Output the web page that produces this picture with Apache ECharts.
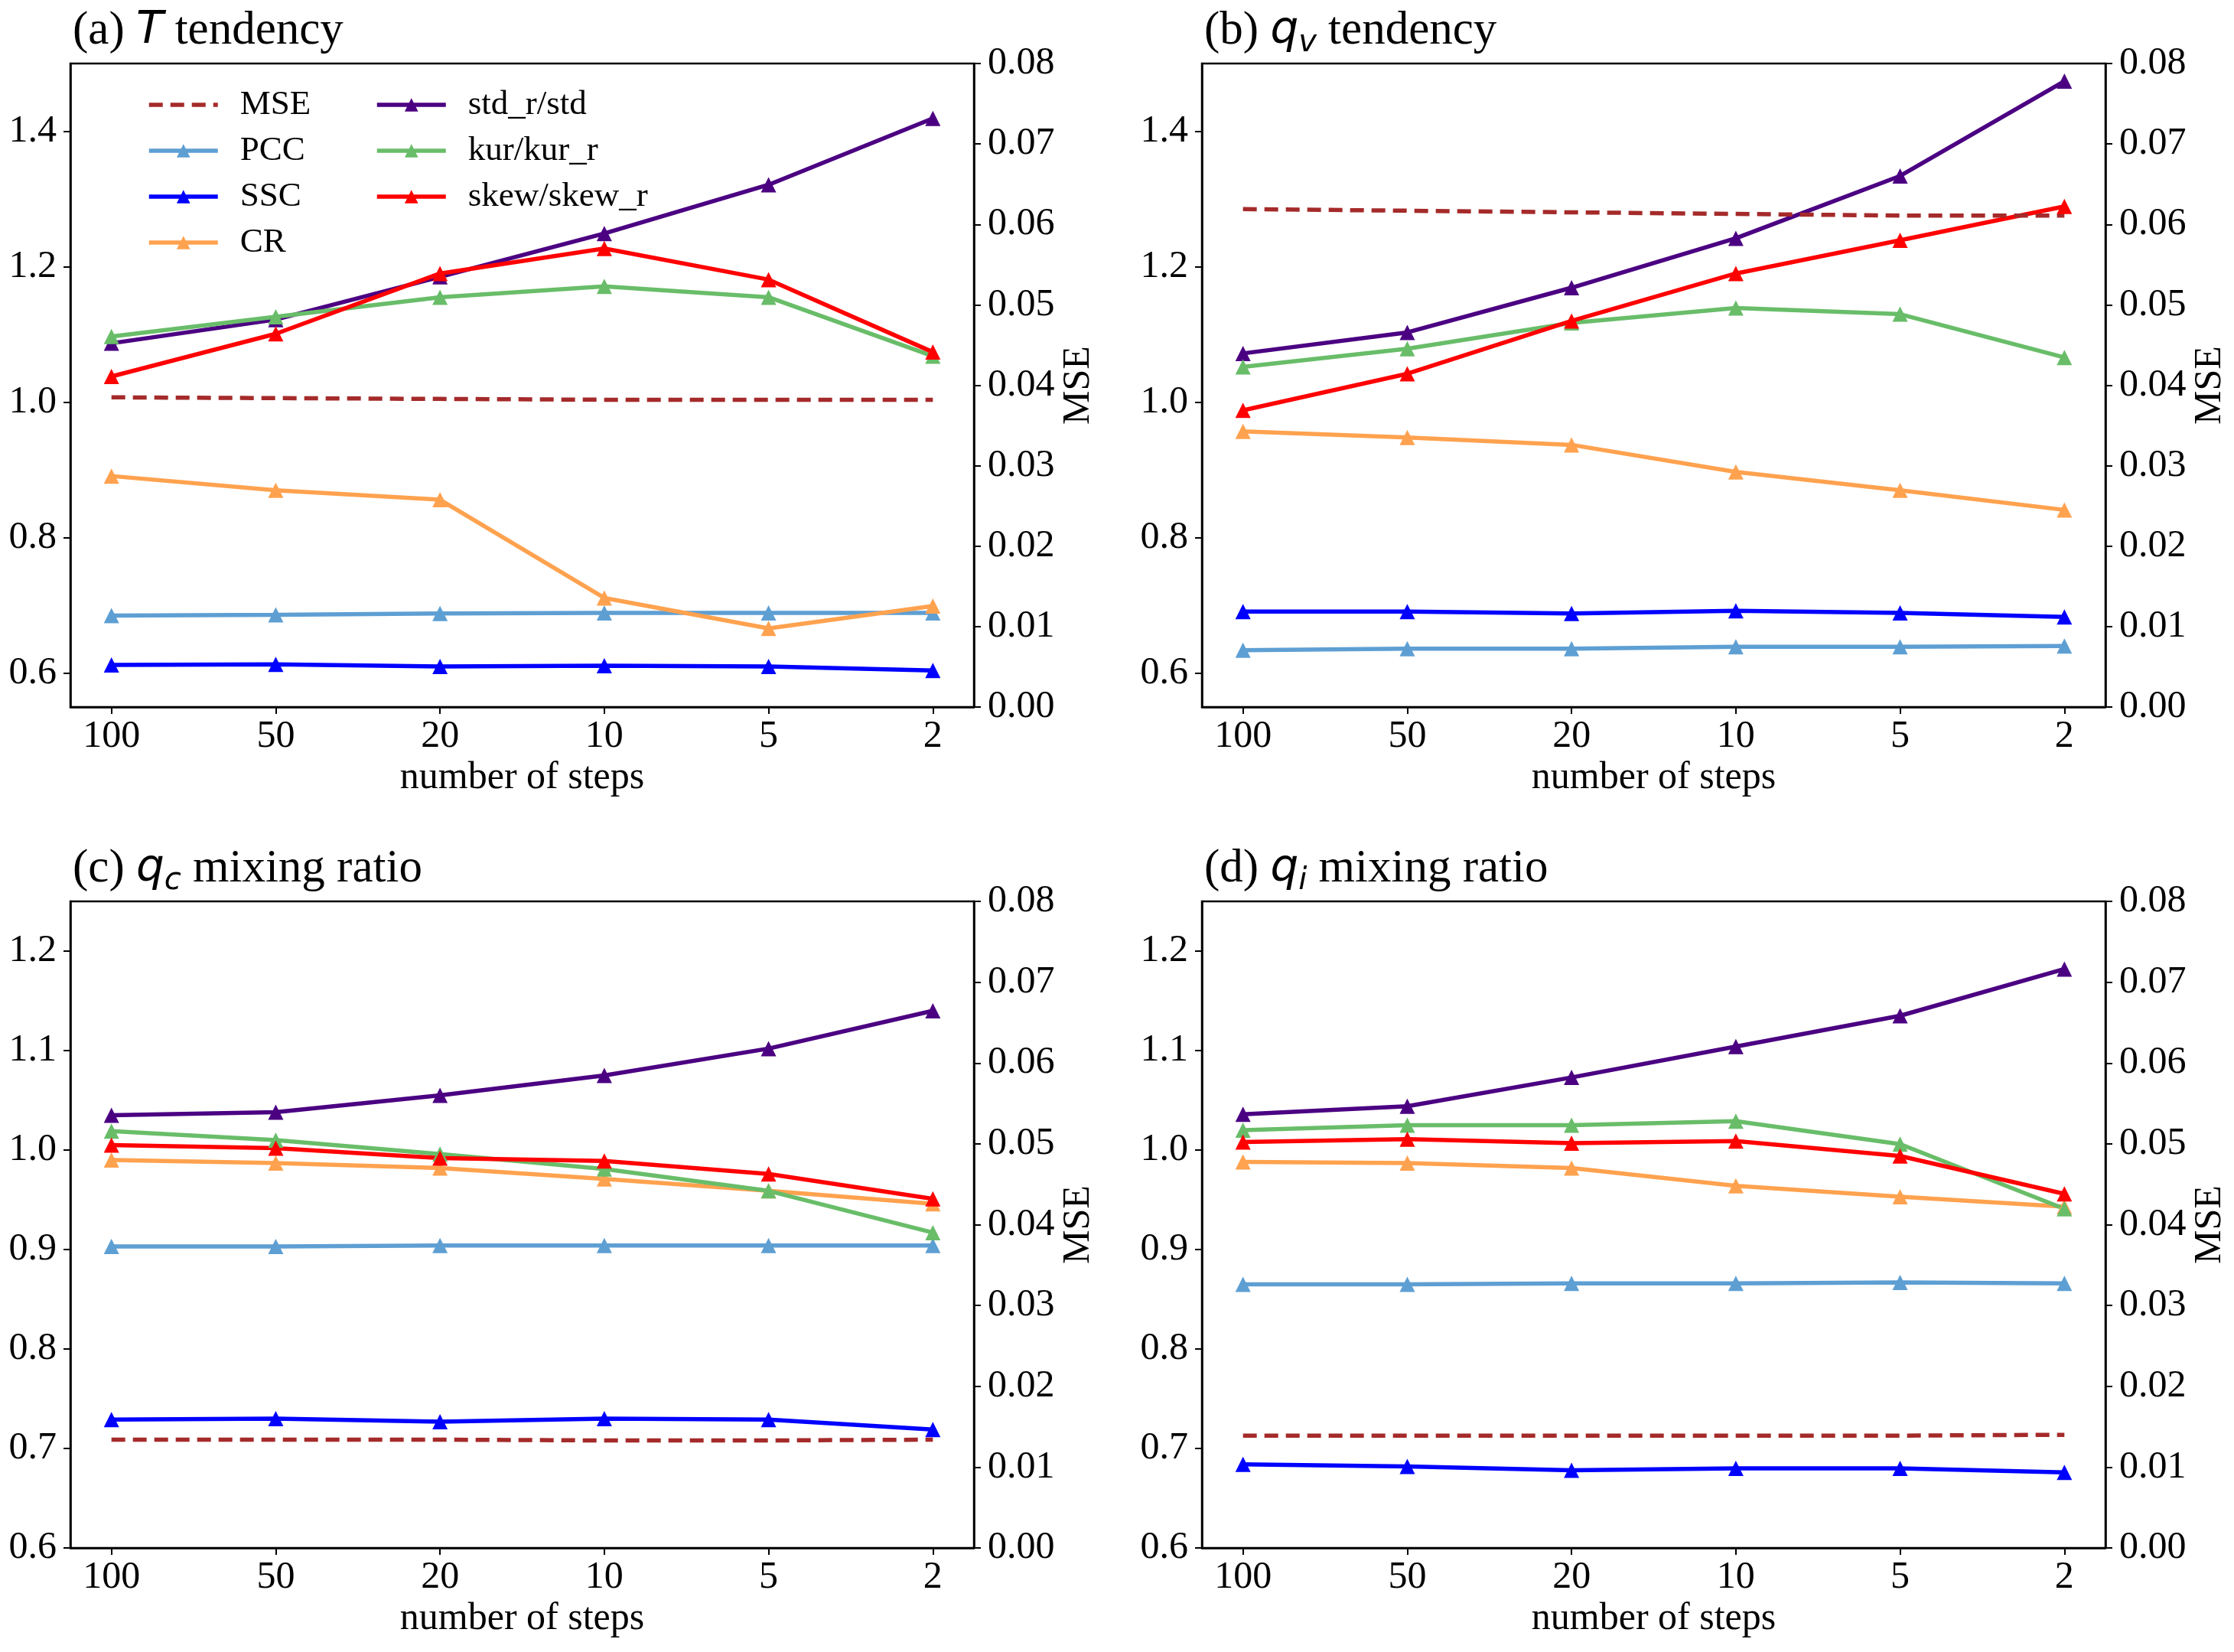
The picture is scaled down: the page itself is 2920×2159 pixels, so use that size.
<!DOCTYPE html>
<html><head><meta charset="utf-8">
<script src="https://cdn.jsdelivr.net/npm/echarts@6/dist/echarts.min.js"></script>
<style>html,body{margin:0;padding:0;background:#fff}#c{width:2920px;height:2159px}</style>
</head><body><div id="c"></div>
<script>
// ---------- data ----------
const steps = ['100', '50', '20', '10', '5', '2'];
const names = ['MSE', 'PCC', 'SSC', 'CR', 'std_r/std', 'kur/kur_r', 'skew/skew_r'];

// (a) T tendency
const a_MSE  = [0.0385, 0.0384, 0.0383, 0.0382, 0.0382, 0.0382];
const a_PCC  = [0.685, 0.686, 0.688, 0.689, 0.689, 0.689];
const a_SSC  = [0.612, 0.613, 0.610, 0.611, 0.610, 0.604];
const a_CR   = [0.891, 0.870, 0.856, 0.711, 0.666, 0.699];
const a_STD  = [1.087, 1.122, 1.185, 1.249, 1.321, 1.419];
const a_KUR  = [1.097, 1.126, 1.155, 1.171, 1.155, 1.068];
const a_SKEW = [1.038, 1.101, 1.190, 1.227, 1.181, 1.074];

// (b) qv tendency
const b_MSE  = [0.0619, 0.0617, 0.0615, 0.0613, 0.0611, 0.0611];
const b_PCC  = [0.634, 0.636, 0.636, 0.639, 0.639, 0.640];
const b_SSC  = [0.691, 0.691, 0.688, 0.692, 0.689, 0.683];
const b_CR   = [0.957, 0.948, 0.937, 0.897, 0.870, 0.841];
const b_STD  = [1.072, 1.103, 1.169, 1.242, 1.334, 1.474];
const b_KUR  = [1.052, 1.079, 1.117, 1.139, 1.130, 1.066];
const b_SKEW = [0.988, 1.042, 1.120, 1.190, 1.239, 1.289];

// (c) qc mixing ratio
const c_MSE  = [0.0134, 0.0134, 0.0134, 0.0133, 0.0133, 0.0134];
const c_PCC  = [0.903, 0.903, 0.904, 0.904, 0.904, 0.904];
const c_SSC  = [0.729, 0.730, 0.727, 0.730, 0.729, 0.719];
const c_CR   = [0.990, 0.987, 0.982, 0.971, 0.959, 0.946];
const c_STD  = [1.035, 1.038, 1.055, 1.075, 1.102, 1.140];
const c_KUR  = [1.019, 1.010, 0.996, 0.981, 0.959, 0.917];
const c_SKEW = [1.005, 1.002, 0.992, 0.989, 0.976, 0.951];

// (d) qi mixing ratio
const d_MSE  = [0.0139, 0.0139, 0.0139, 0.0139, 0.0139, 0.0140];
const d_PCC  = [0.865, 0.865, 0.866, 0.866, 0.867, 0.866];
const d_SSC  = [0.684, 0.682, 0.678, 0.680, 0.680, 0.676];
const d_CR   = [0.988, 0.987, 0.982, 0.964, 0.953, 0.943];
const d_STD  = [1.036, 1.044, 1.073, 1.104, 1.135, 1.182];
const d_KUR  = [1.020, 1.025, 1.025, 1.029, 1.006, 0.941];
const d_SKEW = [1.008, 1.011, 1.007, 1.009, 0.994, 0.956];

const leftTicksAB = [0.6, 0.8, 1.0, 1.2, 1.4];
const leftTicksCD = [0.6, 0.7, 0.8, 0.9, 1.0, 1.1, 1.2];

// ---------- layout / style ----------
const panels = [
  {data: [a_MSE, a_PCC, a_SSC, a_CR, a_STD, a_KUR, a_SKEW], left: 92, top: 83, h: 841, ymin: 0.55, ymax: 1.5, ticks: leftTicksAB,
   title: '{n|(a) }{m|T}{n| tendency}'},
  {data: [b_MSE, b_PCC, b_SSC, b_CR, b_STD, b_KUR, b_SKEW], left: 1571, top: 83, h: 841, ymin: 0.55, ymax: 1.5, ticks: leftTicksAB,
   title: '{n|(b) }{m|q}{s|v}{n| tendency}'},
  {data: [c_MSE, c_PCC, c_SSC, c_CR, c_STD, c_KUR, c_SKEW], left: 92, top: 1178, h: 845, ymin: 0.6, ymax: 1.25, ticks: leftTicksCD,
   title: '{n|(c) }{m|q}{s|c}{n| mixing ratio}'},
  {data: [d_MSE, d_PCC, d_SSC, d_CR, d_STD, d_KUR, d_SKEW], left: 1571, top: 1178, h: 845, ymin: 0.6, ymax: 1.25, ticks: leftTicksCD,
   title: '{n|(d) }{m|q}{s|i}{n| mixing ratio}'}
];
const W = 1181;
const colors = ['#a52a2a', '#5e9fd3', '#0000ff', '#ffa24f', '#4b0082', '#69bd69', '#ff0000'];
const SERIF = 'Liberation Serif';
const FS = 50;

const grid = [], xAxis = [], yAxis = [], series = [], title = [];
const axisLine = {show: true, onZero: false, lineStyle: {color: '#000', width: 2.5}};
const tickBase = {show: true, inside: false, length: 9, lineStyle: {color: '#000', width: 2}};
const labelBase = {color: '#000', fontFamily: SERIF, fontSize: FS};
const nameStyle = {color: '#000', fontFamily: SERIF, fontSize: FS};

panels.forEach((p, gi) => {
  grid.push({left: p.left, top: p.top, width: W, height: p.h, show: true, borderColor: '#000', borderWidth: 2.5, backgroundColor: 'transparent'});
  xAxis.push({
    type: 'value', gridIndex: gi, min: -0.25, max: 5.25, position: 'bottom',
    name: 'number of steps', nameLocation: 'middle', nameGap: 68, nameTextStyle: nameStyle,
    axisLine, splitLine: {show: false},
    axisTick: Object.assign({}, tickBase, {customValues: [0, 1, 2, 3, 4, 5]}),
    axisLabel: Object.assign({}, labelBase, {margin: 14, customValues: [0, 1, 2, 3, 4, 5], formatter: v => steps[Math.round(v)]})
  });
  yAxis.push({
    type: 'value', gridIndex: gi, min: p.ymin, max: p.ymax, position: 'left',
    axisLine, splitLine: {show: false},
    axisTick: Object.assign({}, tickBase, {customValues: p.ticks}),
    axisLabel: Object.assign({}, labelBase, {margin: 18, customValues: p.ticks, formatter: v => v.toFixed(1)})
  });
  yAxis.push({
    type: 'value', gridIndex: gi, min: 0, max: 0.08, interval: 0.01, position: 'right',
    name: 'MSE', nameLocation: 'middle', nameGap: 112, nameRotate: 90, nameTextStyle: nameStyle,
    axisLine, splitLine: {show: false}, axisTick: tickBase,
    axisLabel: Object.assign({}, labelBase, {margin: 18, formatter: v => v.toFixed(2)})
  });
  title.push({
    text: p.title, left: p.left - 2, top: p.top - 84,
    textStyle: {
      fontWeight: 'normal',
      rich: {
        n: {fontFamily: SERIF, fontWeight: 'normal', fontSize: 61, color: '#000', lineHeight: 74},
        m: {fontFamily: 'DejaVu Sans', fontWeight: 'normal', fontStyle: 'italic', fontSize: 58, color: '#000', lineHeight: 74},
        s: {fontFamily: 'DejaVu Sans', fontWeight: 'normal', fontStyle: 'italic', fontSize: 40, color: '#000', lineHeight: 42, padding: [32, 0, 0, 0]}
      }
    }
  });
  // draw MSE last so it sits on top (twin axis)
  const order = [1, 2, 3, 4, 5, 6, 0];
  order.forEach(k => {
    const isMSE = k === 0;
    series.push({
      type: 'line', name: names[k],
      xAxisIndex: gi, yAxisIndex: gi * 2 + (isMSE ? 1 : 0),
      data: p.data[k].map((v, i) => [i, v]),
      symbol: isMSE ? 'none' : 'triangle', symbolSize: 20,
      showSymbol: !isMSE,
      lineStyle: {color: colors[k], width: 5.5, type: isMSE ? [18, 10] : 'solid'},
      itemStyle: {color: colors[k]},
      emphasis: {disabled: true},
      animation: false
    });
  });
});

const legendBase = {
  orient: 'vertical', itemWidth: 90, itemHeight: 22, itemGap: 10,
  lineStyle: {width: 5.5},
  textStyle: {fontFamily: SERIF, fontSize: 45, color: '#000', lineHeight: 50, padding: [0, 0, 0, 24]},
  selectedMode: false
};
const legend = [
  Object.assign({}, legendBase, {left: 187, top: 107, data: [{name: names[0], itemStyle: {opacity: 0}}, names[1], names[2], names[3]]}),
  Object.assign({}, legendBase, {left: 485, top: 107, data: names.slice(4)})
];

const chart = echarts.init(document.getElementById('c'), null, {renderer: 'canvas'});
chart.setOption({
  backgroundColor: '#fff', animation: false,
  title, grid, xAxis, yAxis, series, legend
});
</script>
</body></html>
